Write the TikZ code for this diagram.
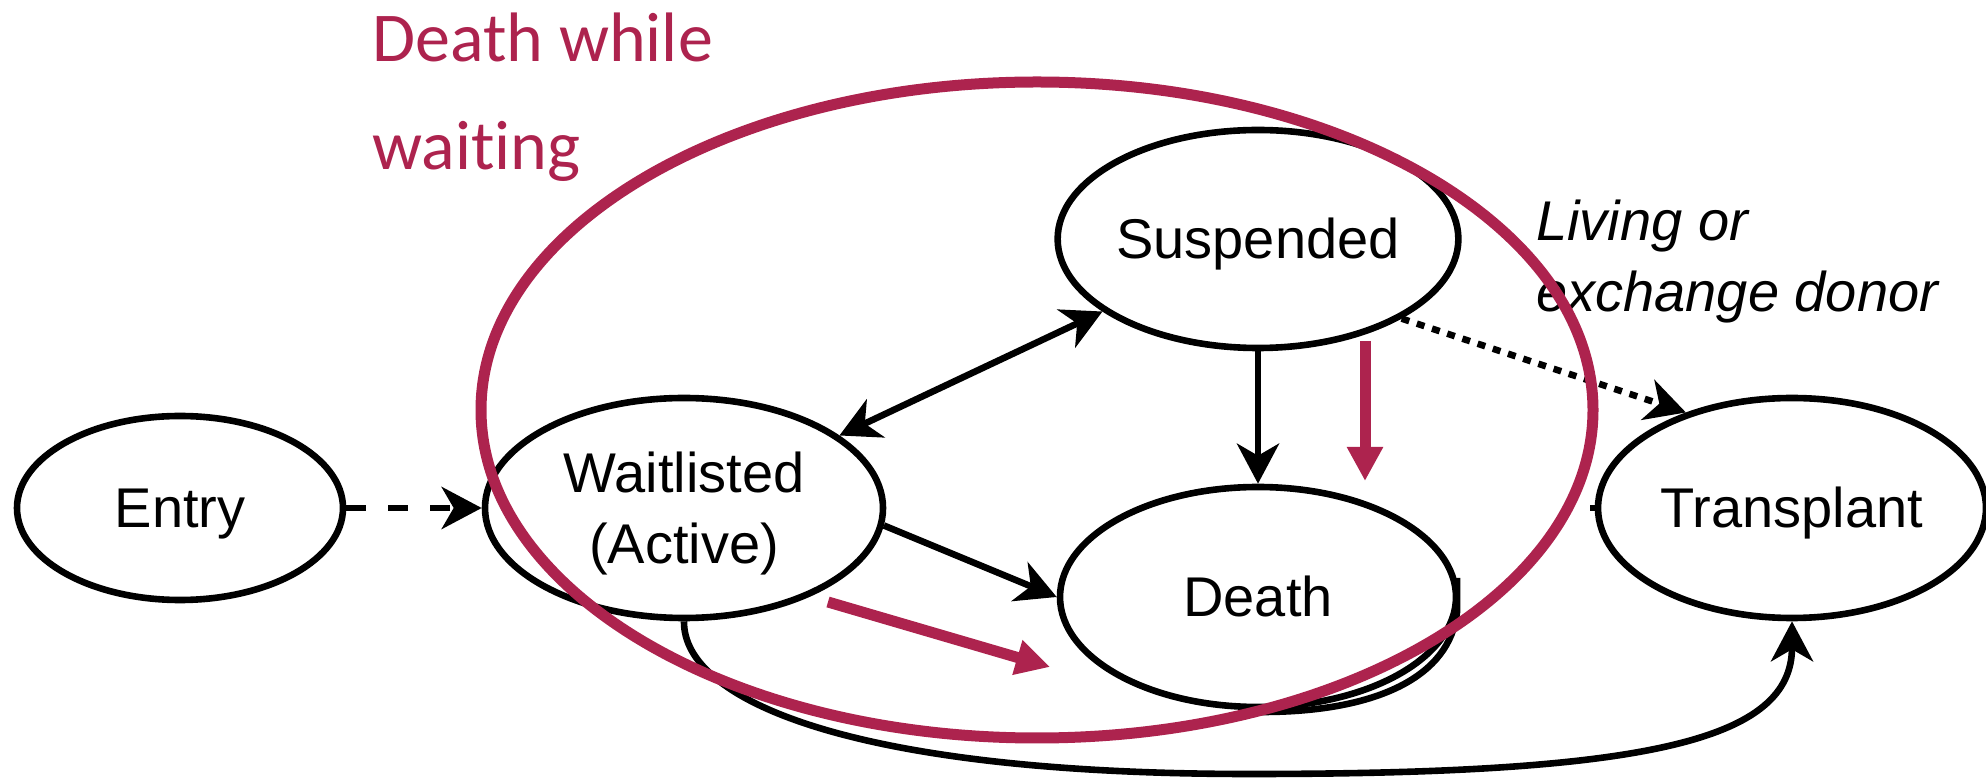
\documentclass[tikz,border=0pt]{standalone}
\usepackage{fontspec}
\setmainfont{Liberation Sans}
\newfontfamily\calibrifont[Ligatures=NoCommon]{Carlito}
\usetikzlibrary{arrows.meta,shapes.geometric}
\definecolor{berry}{RGB}{173,35,78}
\begin{document}
\begin{tikzpicture}[x=0.5pt,y=-0.5pt,
  state/.style={ellipse, draw=black, line width=3.3pt, fill=white, inner sep=0pt,
    font=\fontsize{28}{35.5}\selectfont, text height=20pt, text depth=0pt},
  link/.style={line width=3.3pt, -{Stealth[length=20pt,width=21pt,inset=6pt]}},
  twoway/.style={line width=3.3pt, {Stealth[length=20pt,width=21pt,inset=6pt]}-{Stealth[length=20pt,width=21pt,inset=6pt]}},
  berryarrow/.style={draw=berry, line width=5.5pt, -{Triangle[length=17pt,width=17pt]}},
  ring/.style={ellipse, draw=berry, line width=5.5pt, inner sep=0pt},
]
\useasboundingbox (0,0) rectangle (1986,779);

% slight bulge of the Death outline, lying behind its white fill
\draw[line width=3.3pt] (1457,578) -- (1457,612) .. controls (1450,676) and (1378,712) .. (1262,712);

% states
\node[state, minimum width=163pt, minimum height=92pt] (entry) at (180,508) {Entry};
\node[state, minimum width=199pt, minimum height=110pt, text depth=35.5pt] (wait) at (684,508)
  {\begin{tabular}[t]{@{}c@{}}Waitlisted\\(Active)\end{tabular}};
\node[state, minimum width=199pt, minimum height=109pt] (susp) at (1258,239) {Suspended};
\node[state, minimum width=198pt, minimum height=110pt] (death) at (1258,597) {Death};
\node[state, minimum width=194pt, minimum height=110pt] (trans) at (1792,508) {Transplant};

% transitions
\draw[link, dash pattern=on 10pt off 11pt] (entry.east) -- (wait.west);
\draw[twoway] (wait.25) -- (susp.205);
\draw[link] (susp.south) -- (death.north);
\draw[link] (wait.-5) -- (death.west);
\draw[link, dash pattern=on 4pt off 4pt] (susp.-29) -- (trans.138);
\coordinate (low) at (1250,774);
\draw[link] (wait.south) .. controls (683,700) and (850,774) .. (low)
  .. controls (1650,774) and (1792,740) .. (trans.south);
\draw[line width=3.3pt] (trans.west) -- ++(-5,0);

% labels
\node[anchor=base west, inner sep=0pt, font=\itshape\fontsize{28}{35.5}\selectfont] (donor) at (1536,241)
  {\begin{tabular}[t]{@{}l@{}}Living or\\exchange donor\end{tabular}};
\node[anchor=base west, inner sep=0pt, text=berry, font=\calibrifont\fontsize{35}{54}\selectfont] (dwwlabel) at (372,62)
  {\begin{tabular}[t]{@{}l@{}}Death while\\waiting\end{tabular}};

% death-while-waiting region
\node[ring, minimum width=556pt, minimum height=328pt] (region) at (1037,410) {};
\coordinate (ra1) at (828,602);
\coordinate (ra2) at (1050,667);
\coordinate (rb1) at (1365,341);
\coordinate (rb2) at (1365,481);
\draw[berryarrow] (ra1) -- (ra2);
\draw[berryarrow] (rb1) -- (rb2);
\end{tikzpicture}
\end{document}
